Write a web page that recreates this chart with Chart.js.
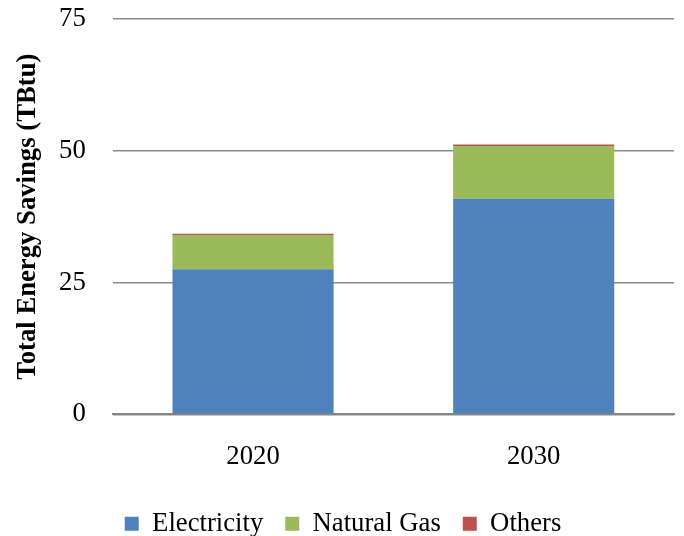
<!DOCTYPE html>
<html>
<head>
<meta charset="utf-8">
<script src="https://cdn.jsdelivr.net/npm/chart.js@4"></script>
<style>
  html, body { margin: 0; padding: 0; background: #fff; }
  #wrap { width: 684px; height: 536px; }
</style>
</head>
<body>
<div id="wrap"><canvas id="chart"></canvas></div>
<script>
const years = ["2020", "2030"];
const electricity = [27.5, 40.9];
const naturalGas = [6.5, 10.0];
const others = [0.25, 0.3];
const yTicks = [0, 25, 50, 75];

const font = { family: "'Liberation Serif', 'Times New Roman', serif", size: 26.7 };

// pull the legend down closer to the bottom edge
const legendShift = {
  id: "legendShift",
  beforeInit(chart) {
    const fit = chart.legend.fit;
    chart.legend.fit = function () {
      fit.call(this);
      this.height -= 11;
    };
  }
};

new Chart(document.getElementById("chart"), {
  type: "bar",
  data: {
    labels: years,
    datasets: [
      { label: "Electricity", data: electricity, backgroundColor: "#4F81BD" },
      { label: "Natural Gas", data: naturalGas, backgroundColor: "#9BBB59" },
      { label: "Others", data: others, backgroundColor: "#C0504D" }
    ]
  },
  plugins: [legendShift],
  options: {
    responsive: true,
    maintainAspectRatio: false,
    animation: false,
    datasets: { bar: { categoryPercentage: 1, barPercentage: 0.574 } },
    layout: { padding: { top: 19, right: 10, left: 12, bottom: 0 } },
    plugins: {
      legend: {
        position: "bottom",
        labels: { font, color: "#000", boxWidth: 14, boxHeight: 14, padding: 22 }
      },
      tooltip: { enabled: false }
    },
    scales: {
      x: {
        stacked: true,
        grid: { display: false },
        border: { display: true, color: "#868686", width: 2 },
        ticks: { font, color: "#000", padding: 19 },
        afterFit: s => { s.height -= 4; }
      },
      y: {
        stacked: true,
        min: 0,
        max: 75,
        afterBuildTicks: axis => { axis.ticks = yTicks.map(v => ({ value: v })); },
        afterFit: s => { s.width -= 20; s.paddingTop = 0; s.paddingBottom = 0; },
        grid: { color: "#8c8c8c", lineWidth: 1.5, drawTicks: false },
        border: { display: false },
        ticks: { font, color: "#000", padding: 27 },
        title: {
          display: true,
          text: "Total Energy Savings (TBtu)",
          font: { ...font, weight: "bold" },
          color: "#000",
          padding: { top: 0, bottom: 8 }
        }
      }
    }
  }
});
</script>
</body>
</html>
